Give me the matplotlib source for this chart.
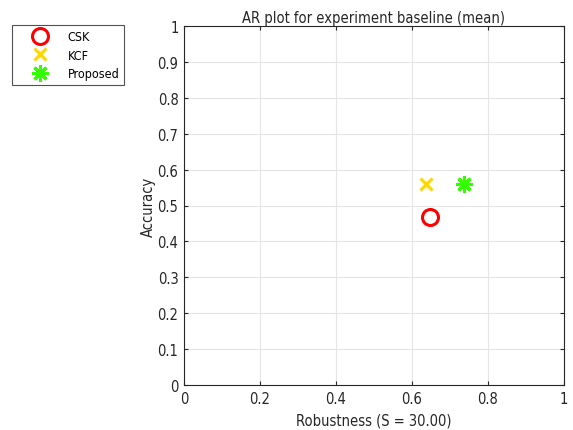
import matplotlib
matplotlib.use("Agg")
import matplotlib.pyplot as plt
import numpy as np

trackers = ["CSK", "KCF", "Proposed"]
robustness = [0.647, 0.637, 0.737]
accuracy = [0.468, 0.560, 0.560]
colors = ["#ff0000", "#ffd700", "#33ff00"]
markers = ["o", "x", (8, 2, 0)]
xticks = [0, 0.2, 0.4, 0.6, 0.8, 1]
xticklabels = ["0", "0.2", "0.4", "0.6", "0.8", "1"]
yticks = [0, 0.1, 0.2, 0.3, 0.4, 0.5, 0.6, 0.7, 0.8, 0.9, 1]
yticklabels = ["0", "0.1", "0.2", "0.3", "0.4", "0.5", "0.6", "0.7", "0.8", "0.9", "1"]

plt.rcParams['font.family'] = ['DejaVu Sans']
plt.rcParams['font.stretch'] = 'condensed'
fig = plt.figure(figsize=(5.73, 4.31), dpi=100)
ax = fig.add_axes([184/573, 45/431, 380/573, 359/431])

handles = []
for name, r, a, c, m in zip(trackers, robustness, accuracy, colors, markers):
    if m == "o":
        h = ax.plot(r, a, linestyle="none", marker=m, markersize=11.5, markerfacecolor="none",
                    markeredgecolor=c, markeredgewidth=2.2, label=name)[0]
    elif m == "x":
        h = ax.plot(r, a, linestyle="none", marker=m, markersize=9, color=c,
                    markeredgewidth=2.2, label=name)[0]
    else:
        h = ax.plot(r, a, linestyle="none", marker=m, markersize=12, color=c,
                    markeredgewidth=2.2, label=name)[0]
    handles.append(h)

ax.set_xlim(0, 1)
ax.set_ylim(0, 1)
ax.set_xticks(xticks)
ax.set_xticklabels(xticklabels)
ax.set_yticks(yticks)
ax.set_yticklabels(yticklabels)
ax.tick_params(direction="in", length=3, labelsize=10.5, color="#262626", labelcolor="#262626",
               top=True, right=True, pad=4)
ax.grid(True, color="#e5e5e5", linewidth=0.8)
ax.set_axisbelow(True)
for s in ax.spines.values():
    s.set_color("#262626")
    s.set_linewidth(0.8)
ax.set_title("AR plot for experiment baseline (mean)", fontsize=10.5, color="#262626", pad=3)
ax.set_xlabel("Robustness (S = 30.00)", fontsize=10.5, color="#262626", labelpad=5)
ax.set_ylabel("Accuracy", fontsize=10.5, color="#262626", labelpad=1)

leg = fig.legend(handles=handles, labels=trackers, loc="upper left",
                 bbox_to_anchor=(12/573, 1 - 26/431), fontsize=9, borderaxespad=0,
                 frameon=True, fancybox=False, edgecolor="#262626",
                 borderpad=0.4, labelspacing=0.44, handletextpad=0.35, handlelength=3.7)
leg.get_frame().set_linewidth(0.8)

fig.savefig("out.png", dpi=100)
